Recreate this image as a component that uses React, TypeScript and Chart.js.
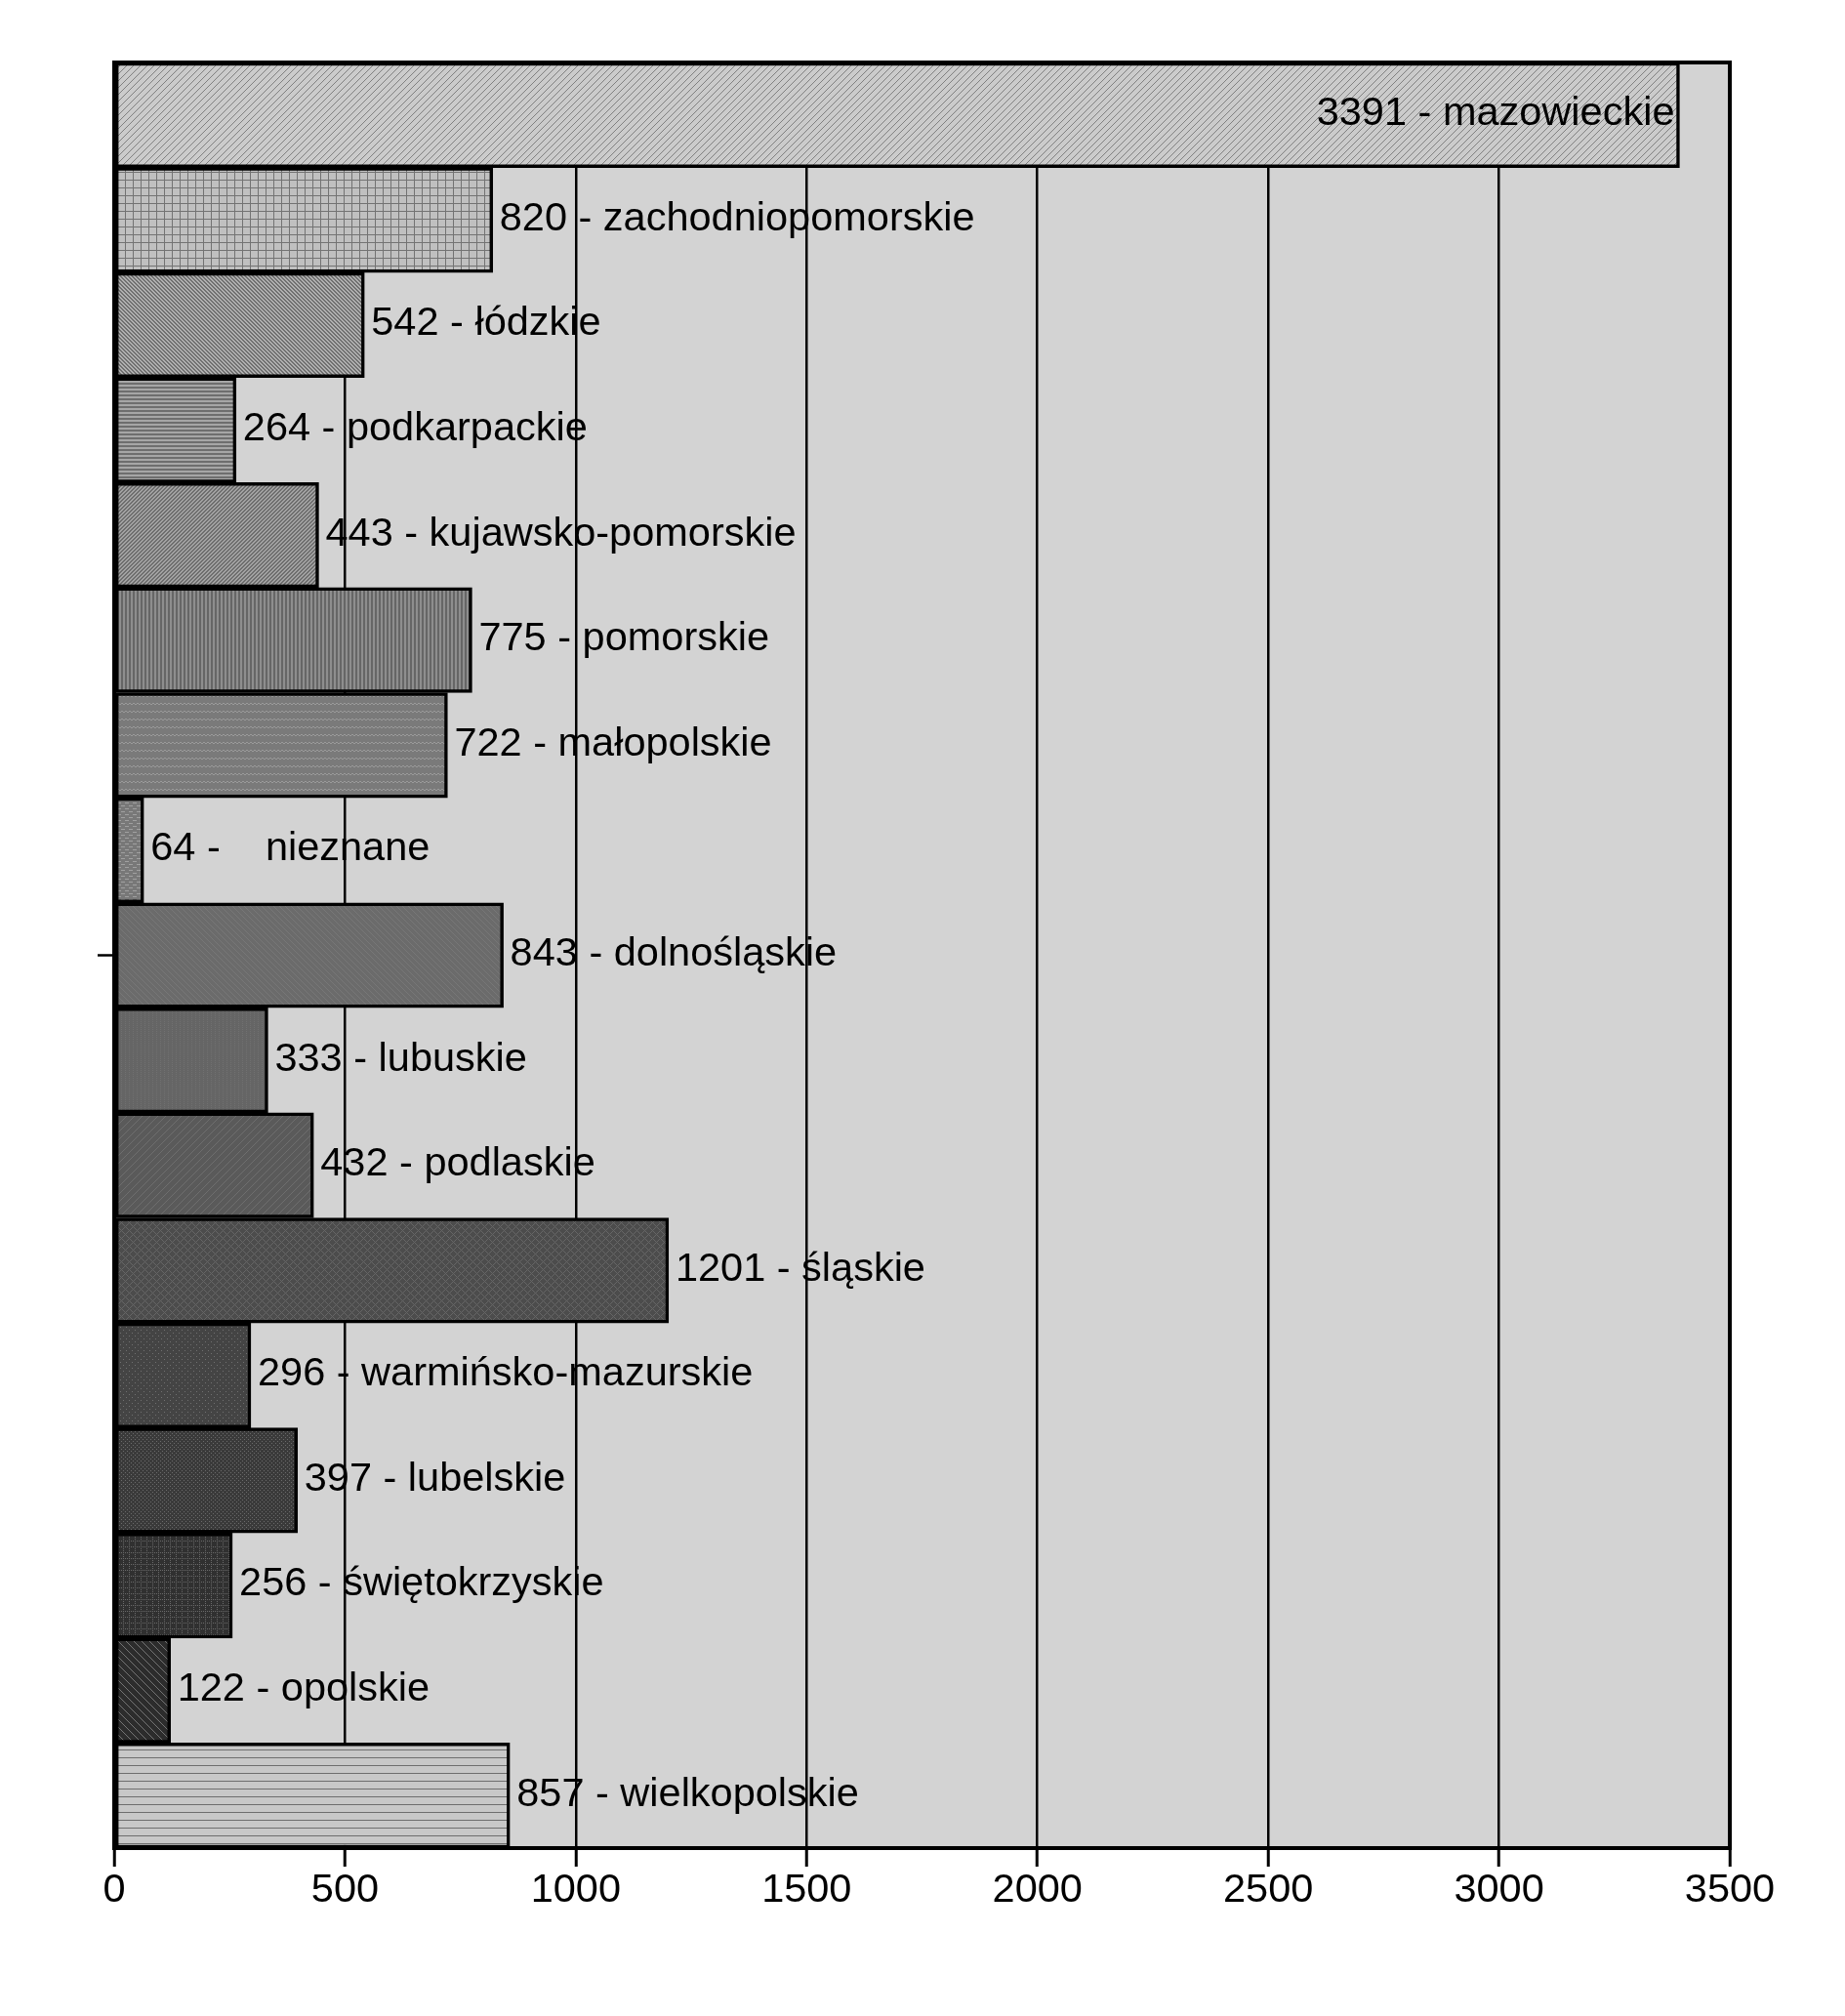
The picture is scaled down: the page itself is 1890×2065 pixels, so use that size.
import React, { useEffect, useRef } from 'react';
import { Chart, registerables } from 'chart.js';

Chart.register(...registerables);

// ---- data ----
const regions = [
  'mazowieckie',
  'zachodniopomorskie',
  'łódzkie',
  'podkarpackie',
  'kujawsko-pomorskie',
  'pomorskie',
  'małopolskie',
  '   nieznane',
  'dolnośląskie',
  'lubuskie',
  'podlaskie',
  'śląskie',
  'warmińsko-mazurskie',
  'lubelskie',
  'świętokrzyskie',
  'opolskie',
  'wielkopolskie',
];
const counts = [3391, 820, 542, 264, 443, 775, 722, 64, 843, 333, 432, 1201, 296, 397, 256, 122, 857];
const xTickValues = [0, 500, 1000, 1500, 2000, 2500, 3000, 3500];
const categoryLabels = [''];

// ---- styles (pattern fills, one per region) ----
type PatSpec = { w: number; h: number; bg: string; fg: string; on: (x: number, y: number) => boolean };
const mod = (a: number, n: number) => ((a % n) + n) % n;
const patternSpecs: PatSpec[] = [
  { w: 7, h: 7, bg: '#cbcbcb', fg: '#808080', on: (x, y) => mod(x + y, 7) === 0 },
  { w: 8, h: 8, bg: '#c0c0c0', fg: '#737373', on: (x, y) => x === 0 || y === 0 },
  { w: 4, h: 4, bg: '#b0b0b0', fg: '#707070', on: (x, y) => mod(x - y, 4) < 2 },
  { w: 4, h: 4, bg: '#a6a6a6', fg: '#6e6e6e', on: (x, y) => y < 2 },
  { w: 4, h: 4, bg: '#a2a2a2', fg: '#6e6e6e', on: (x, y) => mod(x + y, 4) < 2 },
  { w: 4, h: 4, bg: '#8e8e8e', fg: '#666666', on: (x, y) => x < 2 },
  { w: 8, h: 8, bg: '#7a7a7a', fg: '#9a9a9a', on: (x, y) => (y === 0 && mod(x, 4) < 2) || (y === 1 && mod(x, 4) >= 2) },
  { w: 8, h: 6, bg: '#787878', fg: '#a0a0a0', on: (x, y) => (y === 0 && x < 4) || (y === 3 && x >= 4) },
  { w: 6, h: 6, bg: '#6b6b6b', fg: '#777777', on: (x, y) => mod(x - y, 6) === 0 },
  { w: 4, h: 4, bg: '#656565', fg: '#707070', on: (x, y) => x === 0 && y % 2 === 0 },
  { w: 8, h: 8, bg: '#5a5a5a', fg: '#6e6e6e', on: (x, y) => mod(x + y, 8) === 0 },
  { w: 8, h: 8, bg: '#4c4c4c', fg: '#666666', on: (x, y) => mod(x + y, 8) === 0 || mod(x - y, 8) === 0 },
  { w: 6, h: 6, bg: '#444444', fg: '#707070', on: (x, y) => (x === 0 && y === 0) || (x === 3 && y === 3) },
  { w: 4, h: 4, bg: '#3a3a3a', fg: '#6a6a6a', on: (x, y) => (x === 0 && y === 0) || (x === 2 && y === 2) },
  { w: 6, h: 6, bg: '#303030', fg: '#6a6a6a', on: (x, y) => (x === 0 && y % 2 === 0) || (y === 0 && x % 2 === 0) },
  { w: 8, h: 8, bg: '#2c2c2c', fg: '#747474', on: (x, y) => mod(x - y, 8) === 0 },
  { w: 8, h: 8, bg: '#c8c8c8', fg: '#6e6e6e', on: (x, y) => y === 0 },
];

function makePattern(ctx: CanvasRenderingContext2D, s: PatSpec): CanvasPattern | string {
  const c = document.createElement('canvas');
  c.width = s.w;
  c.height = s.h;
  const t = c.getContext('2d');
  if (!t) return s.bg;
  t.fillStyle = s.bg;
  t.fillRect(0, 0, s.w, s.h);
  t.fillStyle = s.fg;
  for (let y = 0; y < s.h; y++) {
    for (let x = 0; x < s.w; x++) {
      if (s.on(x, y)) t.fillRect(x, y, 1, 1);
    }
  }
  return ctx.createPattern(c, 'repeat') || s.bg;
}

const W = 1890;
const H = 2065;
const FAMILY = '"Liberation Sans", Arial, sans-serif';
const FONT = `41.5px ${FAMILY}`;

const bgPlugin = {
  id: 'plotBg',
  beforeDraw(chart: any) {
    const { ctx, chartArea: a } = chart;
    ctx.save();
    ctx.fillStyle = '#ffffff';
    ctx.fillRect(0, 0, chart.width, chart.height);
    ctx.fillStyle = '#d3d3d3';
    ctx.fillRect(a.left, a.top, a.right - a.left, a.bottom - a.top);
    ctx.restore();
  },
};

const framePlugin = {
  id: 'frameAndLabels',
  afterDatasetsDraw(chart: any) {
    const { ctx, chartArea: a } = chart;
    ctx.save();
    ctx.strokeStyle = '#000';
    ctx.lineWidth = 4;
    ctx.strokeRect(a.left, a.top, a.right - a.left, a.bottom - a.top);

    ctx.font = FONT;
    ctx.fillStyle = '#000';
    ctx.textBaseline = 'middle';
    chart.data.datasets.forEach((ds: any, i: number) => {
      const meta = chart.getDatasetMeta(i);
      const el = meta.data[0];
      if (!el) return;
      const text = `${counts[i]} - ${regions[i]}`;
      const w = ctx.measureText(text).width;
      if (el.x + 7 + w > a.right) {
        ctx.textAlign = 'right';
        ctx.fillText(text, el.x - 5, el.y - 1);
      } else {
        ctx.textAlign = 'left';
        ctx.fillText(text, el.x + 7, el.y - 1);
      }
    });
    ctx.restore();
  },
};

export default function App() {
  const ref = useRef<HTMLCanvasElement | null>(null);

  useEffect(() => {
    const canvas = ref.current;
    if (!canvas) return;
    const ctx = canvas.getContext('2d');
    if (!ctx) return;
    const patterns = patternSpecs.map((s) => makePattern(ctx, s));

    const chart = new Chart(canvas, {
      type: 'bar',
      data: {
        labels: categoryLabels,
        datasets: counts.map((v, i) => ({
          label: regions[i],
          data: [v],
          backgroundColor: patterns[i] as any,
          borderColor: '#000',
          borderWidth: 3.5,
          borderSkipped: false,
          categoryPercentage: 1,
          barPercentage: 1,
        })),
      },
      options: {
        indexAxis: 'y',
        responsive: false,
        animation: false,
        devicePixelRatio: 1,
        layout: { padding: { top: 64, right: 118, left: 0, bottom: 0 } },
        plugins: {
          legend: { display: false },
          tooltip: { enabled: false },
        },
        scales: {
          x: {
            type: 'linear',
            min: 0,
            max: 3500,
            afterBuildTicks: (scale: any) => {
              scale.ticks = xTickValues.map((v) => ({ value: v }));
            },
            afterFit: (scale: any) => {
              scale.height = 172;
            },
            grid: {
              color: '#000',
              lineWidth: 2.5,
              drawTicks: true,
              tickLength: 19,
              tickWidth: 3,
              tickColor: '#000',
            },
            border: { display: false },
            ticks: {
              color: '#000',
              font: { family: FAMILY, size: 41.5 },
              padding: 0,
              maxRotation: 0,
              autoSkip: false,
              callback: (v: any) => String(v),
            },
          },
          y: {
            type: 'category',
            offset: true,
            afterFit: (scale: any) => {
              scale.width = 117;
            },
            grid: {
              drawOnChartArea: false,
              offset: false,
              drawTicks: true,
              tickLength: 17,
              tickWidth: 2.5,
              tickColor: '#000',
              color: '#000',
            },
            border: { display: false },
            ticks: { display: false },
          },
        },
      },
      plugins: [bgPlugin, framePlugin],
    });

    return () => chart.destroy();
  }, []);

  return (
    <div style={{ position: 'absolute', left: 0, top: 0, width: W, height: H, background: '#fff' }}>
      <canvas ref={ref} width={W} height={H} style={{ display: 'block', width: W, height: H }} />
    </div>
  );
}
